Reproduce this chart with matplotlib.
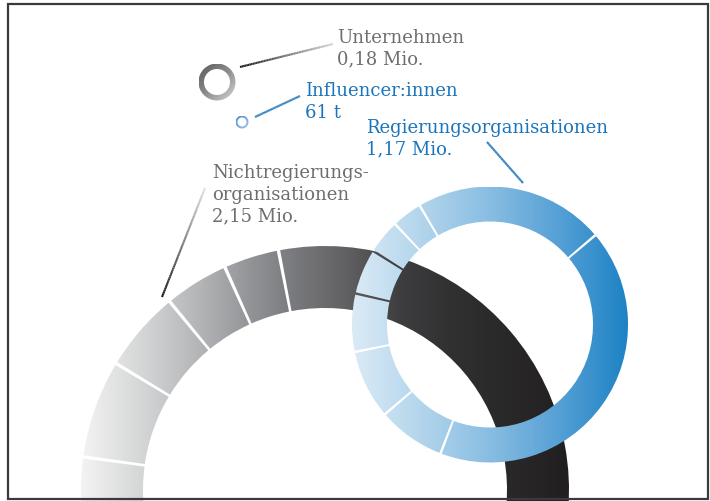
import numpy as np
import matplotlib
matplotlib.use("Agg")
import matplotlib.pyplot as plt
from matplotlib.patches import Wedge, PathPatch, Rectangle
from matplotlib.path import Path
from matplotlib.colors import LinearSegmentedColormap, to_rgb
from matplotlib.collections import LineCollection

W, H = 710, 501

# --- data -----------------------------------------------------------------
groups = ["ngo", "gov", "firm", "infl"]
names = [["Nichtregierungs-", "organisationen"], ["Regierungsorganisationen"],
         ["Unternehmen"], ["Influencer:innen"]]
amounts = ["2,15 Mio.", "1,17 Mio.", "0,18 Mio.", "61 t"]
values = [2.15, 1.17, 0.18, 0.061]  # Mio.

# segment boundaries of each ring, degrees counter-clockwise from east
ngo_edges = [-20, 101, 114.2, 129.5, 148.8, 172.2, 200]
gov_edges = [40.3, 120.6, 133.4, 147.8, 167, 191.5, 220.5, 249, 400.3]
firm_edges = [0, 360]
infl_edges = [0, 360]

# --- layout (pixel coords, y downwards) -----------------------------------
# centre x, centre y, outer radius, ring width, gap px
ring_geom = {
    "ngo": (325, 490, 244, 62, 3.0),
    "gov": (490, 324.5, 138, 35, 2.2),
    "firm": (217, 82, 18.5, 5.5, 0),
    "infl": (242, 122, 6.5, 2, 0),
}
text_pos = {"ngo": (212, 178), "gov": (366, 133), "firm": (337, 43), "infl": (305, 96)}
leaders = {
    "ngo": ((205, 188), (162, 297), "#e2e2e2", "#151515"),
    "gov": ((487, 142), (523, 183), "#1b75bc", "#1b75bc"),
    "firm": ((240, 67), (333, 44), "#151515", "#d5d5d5"),
    "infl": ((255, 117), (300, 96), "#1b75bc", "#1b75bc"),
}
gray = "#6d6e71"
blue = "#1b75bc"
text_col = {"ngo": gray, "gov": blue, "firm": gray, "infl": blue}
line_h = 21.5

ngo_cmap = LinearSegmentedColormap.from_list("ngo", [
    (0.0, "#f3f3f3"), (0.13, "#d3d4d5"), (0.244, "#b3b4b6"), (0.346, "#939497"),
    (0.428, "#7b7c7f"), (0.551, "#5f5f61"), (0.654, "#3e3e40"),
    (0.756, "#313132"), (1.0, "#221f20")])
gov_cmap = LinearSegmentedColormap.from_list("gov", [
    (0.0, "#dbebf6"), (0.25, "#b3d5ec"), (0.5, "#88bde2"),
    (0.75, "#56a0d5"), (1.0, "#1d82c4")])
firm_cmap = LinearSegmentedColormap.from_list("firm", ["#5a5a5c", "#8e8e90", "#d6d6d6"])
infl_cmap = LinearSegmentedColormap.from_list("infl", ["#4f8ed4", "#a9c8ea"])

fig = plt.figure(figsize=(W / 100, H / 100), dpi=100)
ax = fig.add_axes([0, 0, 1, 1])
ax.set_axis_off()


def ring(key, edges, cmap, z, diagonal=False):
    cx, cy, r, w, gap = ring_geom[key]
    y = H - cy
    half = np.degrees(gap / (r - w / 2)) / 2
    paths = [Wedge((cx, y), r, a + half, b - half, width=w).get_path()
             for a, b in zip(edges[:-1], edges[1:])]
    clip = PathPatch(Path.make_compound_path(*paths), transform=ax.transData,
                     fc="none", ec="none")
    ax.add_patch(clip)
    if diagonal:
        n = 64
        i, j = np.mgrid[0:n, 0:n]
        grad = (i + j) / (2 * n - 2)
    else:
        grad = np.linspace(0, 1, 512).reshape(1, -1)
    im = ax.imshow(grad, cmap=cmap, extent=(cx - r, cx + r, y - r, y + r),
                   aspect="auto", interpolation="bilinear", zorder=z)
    im.set_clip_path(clip)


def grad_line(p0, p1, c0, c1, lw):
    t = np.linspace(0, 1, 60)
    xs = p0[0] + (p1[0] - p0[0]) * t
    ys = H - (p0[1] + (p1[1] - p0[1]) * t)
    pts = np.column_stack([xs, ys])
    segs = np.stack([pts[:-1], pts[1:]], axis=1)
    a, b = np.array(to_rgb(c0)), np.array(to_rgb(c1))
    cols = [a + (b - a) * s for s in (t[:-1] + t[1:]) / 2]
    ax.add_collection(LineCollection(segs, colors=cols, linewidths=lw,
                                     capstyle="butt", zorder=5))


ring("ngo", ngo_edges, ngo_cmap, 1)
ring("gov", gov_edges, gov_cmap, 2)
ring("firm", firm_edges, firm_cmap, 2, diagonal=True)
ring("infl", infl_edges, infl_cmap, 2, diagonal=True)

for g, name_lines, amt in zip(groups, names, amounts):
    p0, p1, c0, c1 = leaders[g]
    grad_line(p0, p1, c0, c1, 1.5)
    x, yb = text_pos[g]
    for k, s in enumerate(name_lines + [amt]):
        ax.text(x, H - (yb + k * line_h), s, color=text_col[g], fontsize=13,
                family="DejaVu Serif", va="baseline", ha="left", zorder=6)

ax.add_patch(Rectangle((8, H - 499), 700, 495, fill=False, ec="#3a3a3a",
                       lw=1.6, zorder=10, clip_on=False))

ax.set_xlim(0, W)
ax.set_ylim(0, H)
fig.savefig("out.png", dpi=100, facecolor="white")
